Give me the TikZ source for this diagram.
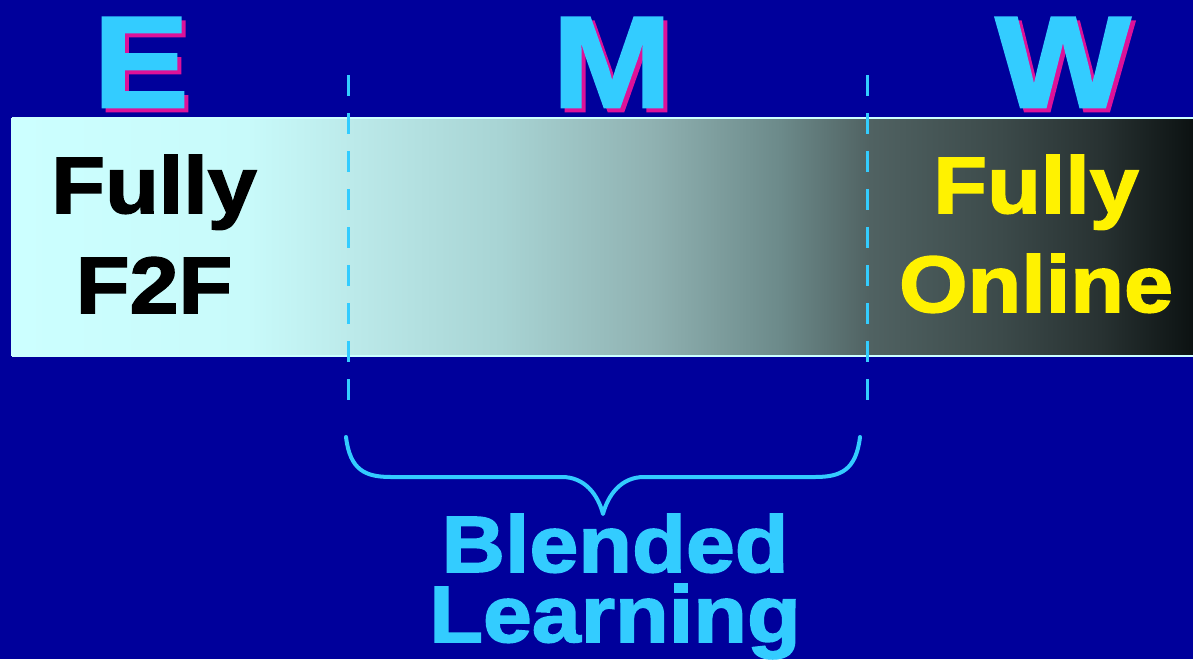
\documentclass[tikz,border=0pt]{standalone}
\usepackage{fontspec}
\newfontfamily\blk{Liberation Sans Bold}[FakeBold=2,FakeStretch=1.1]
\definecolor{bgblue}{RGB}{0,0,155}
\definecolor{cyantext}{RGB}{51,204,255}
\definecolor{shadowmag}{RGB}{221,17,153}
\definecolor{barlight}{RGB}{204,255,255}
\definecolor{gA}{RGB}{204,255,255}
\definecolor{gB}{RGB}{200,250,250}
\definecolor{gC}{RGB}{188,234,234}
\definecolor{gD}{RGB}{168,212,212}
\definecolor{gE}{RGB}{144,178,178}
\definecolor{gF}{RGB}{108,138,138}
\definecolor{gG}{RGB}{80,98,98}
\definecolor{gH}{RGB}{60,74,74}
\definecolor{gI}{RGB}{40,50,50}
\definecolor{gJ}{RGB}{12,18,18}
\pgfdeclarehorizontalshading{barshade}{100bp}{color(0bp)=(gA); color(25bp)=(gA); color(35.08bp)=(gB); color(39.31bp)=(gC); color(45.66bp)=(gD); color(52.01bp)=(gE); color(57.51bp)=(gF); color(61.32bp)=(gG); color(66.83bp)=(gH); color(71.06bp)=(gI); color(75bp)=(gJ); color(100bp)=(gJ)}
\tikzset{
  bigletter/.style={font=\blk\fontsize{130}{130}\selectfont, inner sep=0pt, anchor=base},
  bartext/.style={font=\blk\fontsize{80}{100}\selectfont, inner sep=0pt, anchor=base},
  dashline/.style={draw=cyantext, line width=3pt, dash pattern=on 21pt off 17pt},
  bracestyle/.style={draw=cyantext, line width=4pt, line cap=round, line join=round}
}
\begin{document}
\begin{tikzpicture}[x=1pt,y=-1pt]
\fill[bgblue] (0,0) rectangle (1193,659);
\useasboundingbox (0,0) rectangle (1193,659);
% bar
\shade[shading=barshade] (12,118) rectangle (1193,356);
\draw[barlight, line width=2pt] (12,118) -- (1193,118);
\draw[barlight, line width=2pt] (12,356) -- (1193,356);
\draw[barlight, line width=2pt] (12,118) -- (12,356);
% letters with shadow
\foreach \nm/\t/\x in {E/E/141, M/M/612, W/W/1063}{
  \node[bigletter, text=shadowmag] (sh\nm) at (\x+4,111) {\t};
  \node[bigletter, text=cyantext] (l\nm) at (\x,107) {\t};
}
% texts
\node[bartext, text=black] (fully1) at (154,213) {Fully};
\node[bartext, text=black] (f2f) at (154,313) {F2F};
\node[bartext, text=yellow] (fully2) at (1036,213) {Fully};
\node[bartext, text=yellow] (online) at (1036,312) {Online};
\node[bartext, text=cyantext] (blended) at (615,572) {Blended};
\node[bartext, text=cyantext] (learning) at (615,642) {Learning};
% dashed lines
\coordinate (d1t) at (348,75); \coordinate (d1b) at (348,402);
\coordinate (d2t) at (867,75); \coordinate (d2b) at (867,402);
\draw[dashline] (d1t) -- (d1b);
\draw[dashline] (d2t) -- (d2b);
% brace
\coordinate (bl) at (346,437); \coordinate (br) at (860,437); \coordinate (tip) at (603,514);
\draw[bracestyle] (bl) .. controls (350,470) and (365,477) .. (391,477) -- (562,477)
  .. controls (585,477) and (598,495) .. (tip)
  .. controls (608,495) and (621,477) .. (644,477) -- (815,477)
  .. controls (841,477) and (856,470) .. (br);
\end{tikzpicture}
\end{document}
